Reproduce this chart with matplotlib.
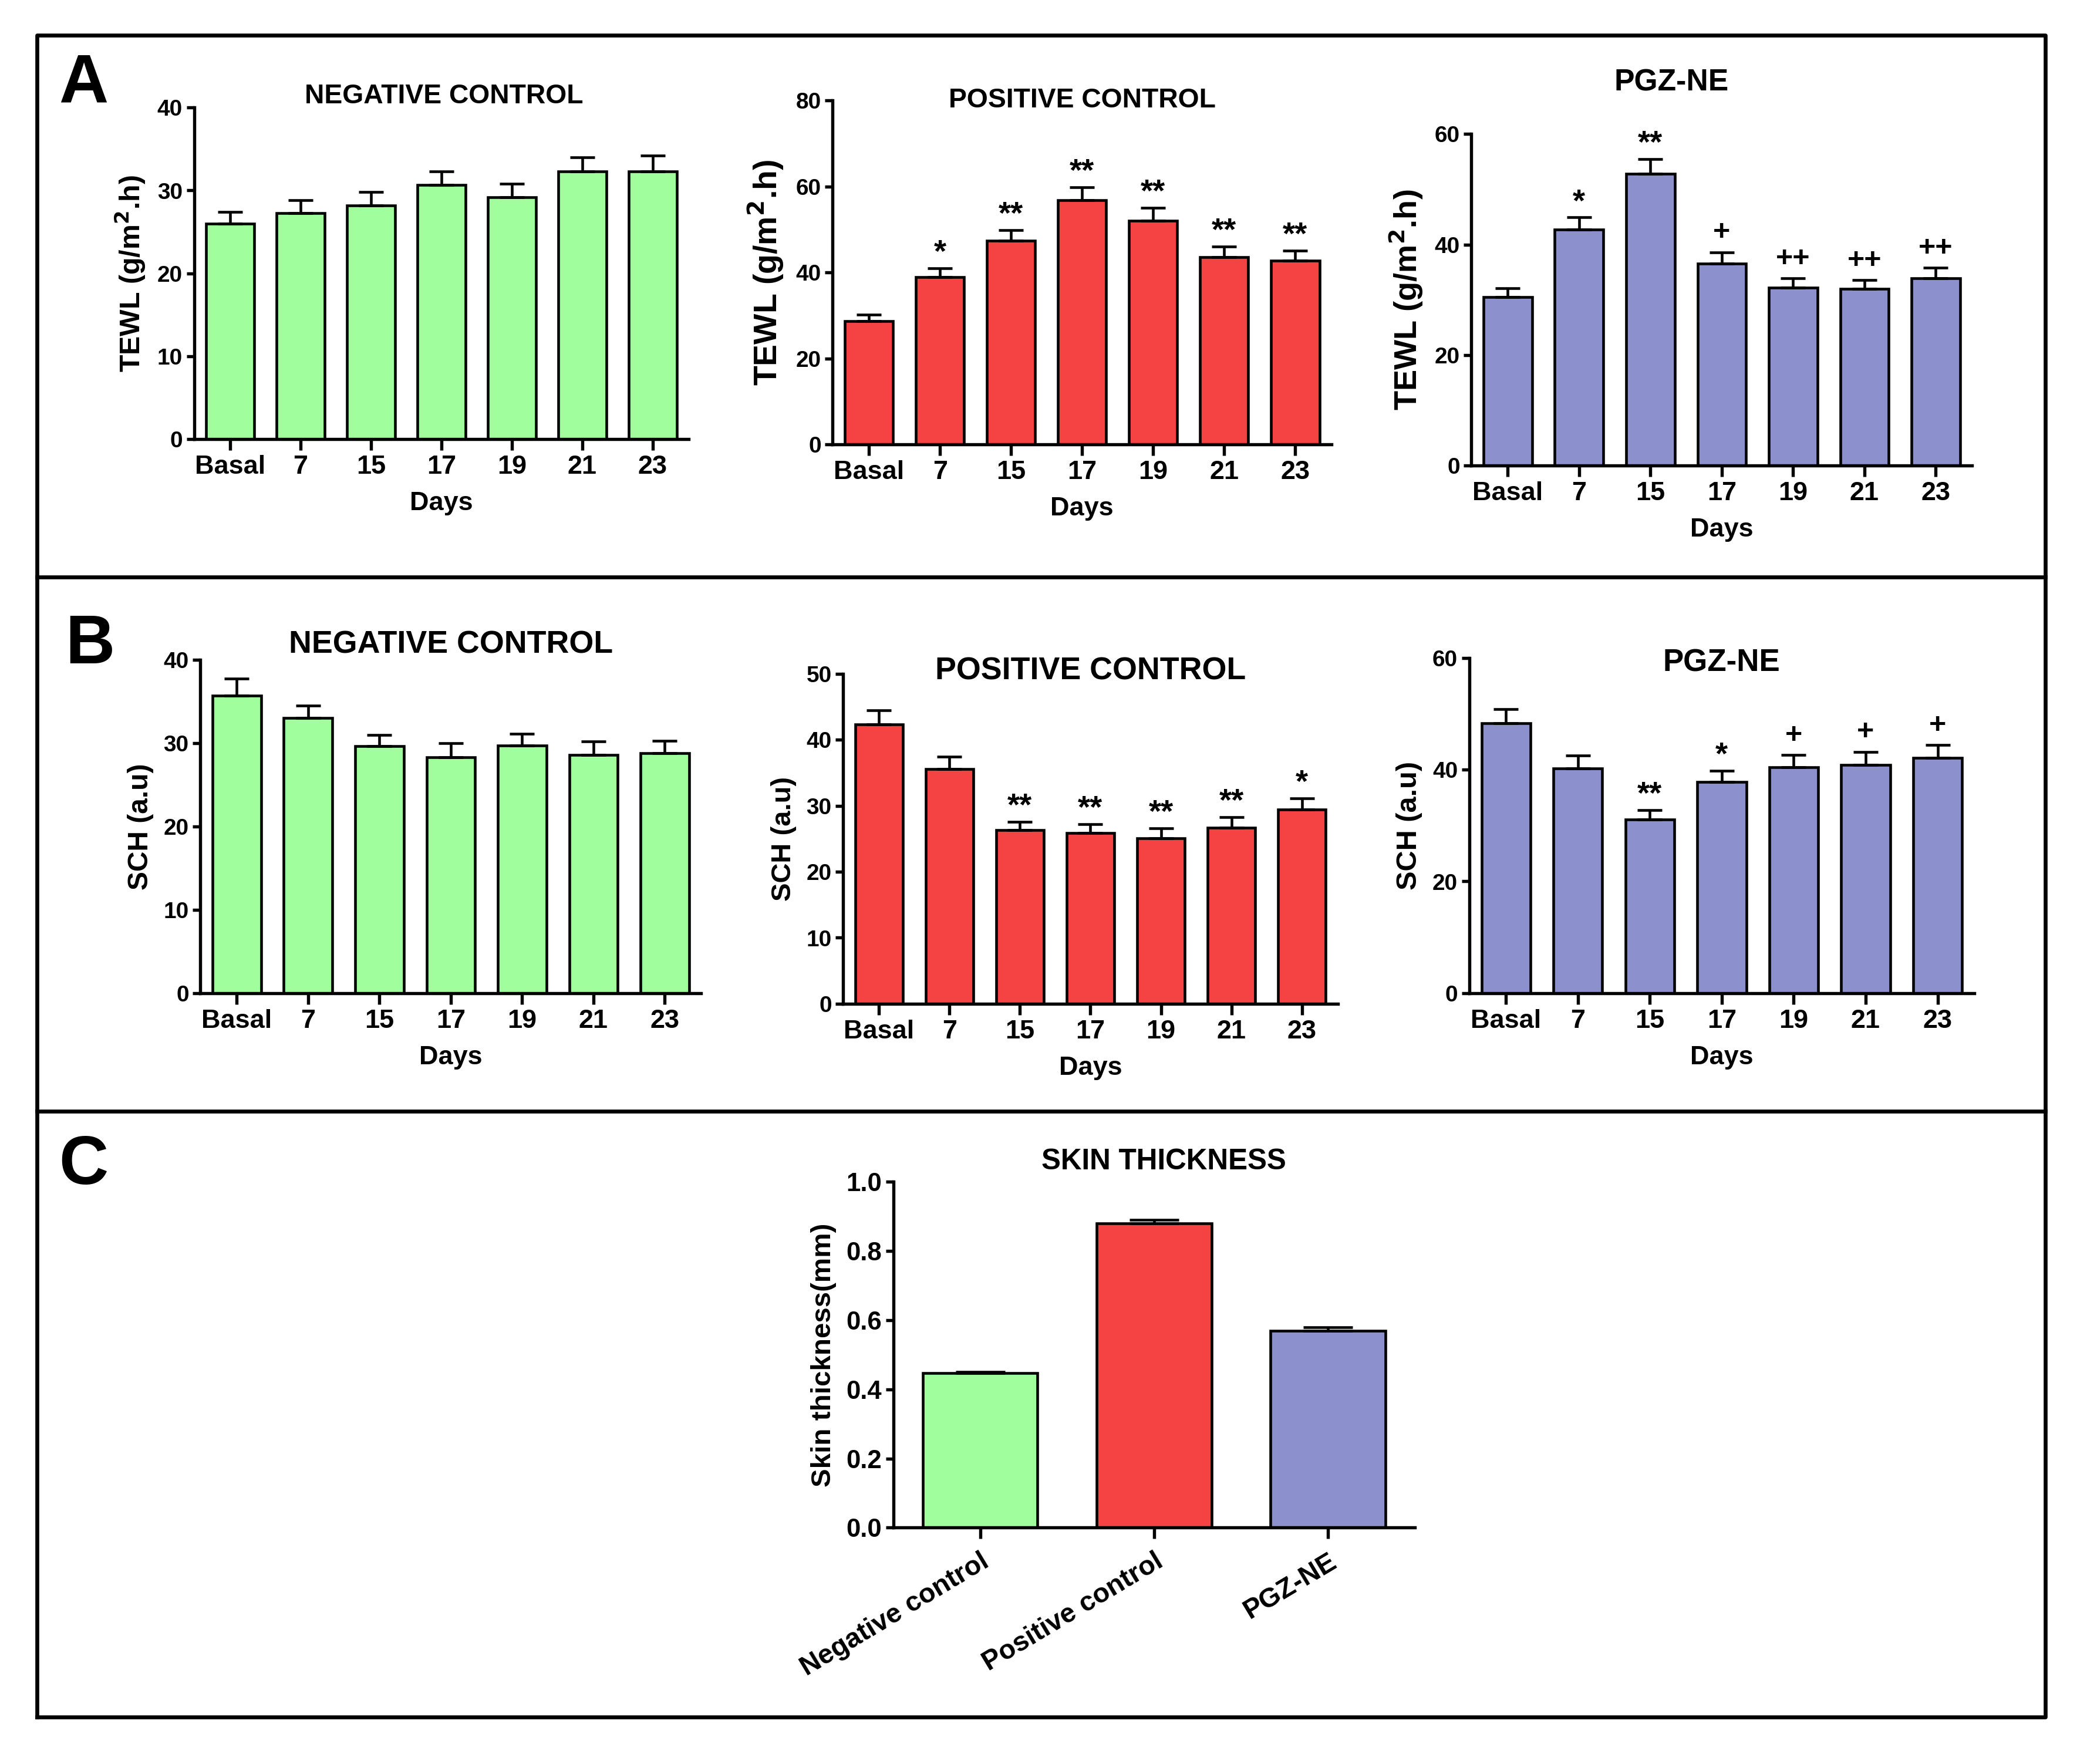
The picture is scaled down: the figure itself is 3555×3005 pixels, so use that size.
import numpy as np
import matplotlib
matplotlib.use('Agg')
import matplotlib.pyplot as plt
from matplotlib.lines import Line2D

plt.rcParams['font.family'] = ['Liberation Sans', 'DejaVu Sans']
plt.rcParams['font.weight'] = 'bold'
plt.rcParams['axes.labelweight'] = 'bold'

# data
days = ['Basal', '7', '15', '17', '19', '21', '23']

tewl_neg = [26.0, 27.3, 28.2, 30.7, 29.2, 32.3, 32.3]
tewl_neg_err = [1.4, 1.5, 1.6, 1.6, 1.6, 1.7, 1.9]
tewl_pos = [28.7, 39.0, 47.4, 56.8, 52.1, 43.6, 42.7]
tewl_pos_err = [1.5, 2.0, 2.5, 3.0, 3.0, 2.5, 2.4]
tewl_pgz = [30.5, 42.7, 52.8, 36.6, 32.2, 32.0, 33.9]
tewl_pgz_err = [1.6, 2.2, 2.7, 2.0, 1.7, 1.6, 1.9]

sch_neg = [35.7, 33.0, 29.6, 28.3, 29.7, 28.6, 28.8]
sch_neg_err = [2.0, 1.5, 1.4, 1.7, 1.4, 1.6, 1.5]
sch_pos = [42.3, 35.6, 26.3, 25.9, 25.1, 26.7, 29.4]
sch_pos_err = [2.2, 1.8, 1.3, 1.3, 1.5, 1.6, 1.7]
sch_pgz = [48.3, 40.2, 31.1, 37.8, 40.4, 40.9, 42.1]
sch_pgz_err = [2.5, 2.3, 1.7, 2.0, 2.2, 2.3, 2.3]

tewl_pos_sig = ['', '*', '**', '**', '**', '**', '**']
tewl_pgz_sig = ['', '*', '**', '+', '++', '++', '++']
sch_pos_sig = ['', '', '**', '**', '**', '**', '*']
sch_pgz_sig = ['', '', '**', '*', '+', '+', '+']

groups = ['Negative control', 'Positive control', 'PGZ-NE']
thick = [0.447, 0.880, 0.570]
thick_err = [0.003, 0.010, 0.010]

green = '#A0FF9C'
red = '#F54242'
blue = '#8C91CE'

fig = plt.figure(figsize=(11.85, 10.017), dpi=300)


def bar_panel(rect, vals, errs, color, ymax, ystep, ylabel, title, tpos, tsize,
              ylsize, sig=None, xlabels=days, fmt='%d'):
    ax = fig.add_axes(rect)
    x = np.arange(len(vals))
    ax.bar(x, vals, width=0.68, color=color, edgecolor='black', linewidth=1.1,
           zorder=2)
    ax.errorbar(x, vals, yerr=[np.zeros(len(errs)), errs], fmt='none',
                ecolor='black', elinewidth=1.1, capsize=5, capthick=1.1, zorder=3)
    ax.set_xlim(-0.51, 6.51)
    ax.set_ylim(0, ymax)
    ax.set_yticks(np.arange(0, ymax + ystep / 2, ystep))
    ax.yaxis.set_major_formatter(matplotlib.ticker.FormatStrFormatter(fmt))
    ax.set_xticks(x)
    ax.set_xticklabels(xlabels, fontsize=10.8)
    ax.set_xlabel('Days', fontsize=10.8, labelpad=5)
    ax.spines['top'].set_visible(False)
    ax.spines['right'].set_visible(False)
    for s in ['left', 'bottom']:
        ax.spines[s].set_linewidth(1.3)
    ax.tick_params(axis='x', length=4.5, width=1.3, pad=2)
    ax.tick_params(axis='y', length=3.2, width=1.3, pad=1.5, labelsize=9.3)
    ax.set_ylabel(ylabel, fontsize=ylsize, labelpad=4)
    ax.text(tpos[0], tpos[1], title, transform=ax.transAxes, ha='center',
            va='center', fontsize=tsize, fontweight='bold')
    if sig:
        for i, s in enumerate(sig):
            if not s:
                continue
            if '*' in s:
                ax.annotate(s, (i, vals[i] + errs[i]), xytext=(0, 0),
                            textcoords='offset points', ha='center', va='bottom',
                            fontsize=13, fontweight='bold')
            else:
                ax.annotate(s, (i, vals[i] + errs[i]), xytext=(0, 2.5),
                            textcoords='offset points', ha='center', va='bottom',
                            fontsize=12, fontweight='bold')
    return ax


tewl_lab = 'TEWL (g/m$^{\\mathbf{2}}$.h)'

bar_panel([0.093, 0.751, 0.237, 0.188], tewl_neg, tewl_neg_err, green, 40, 10,
          tewl_lab, 'NEGATIVE CONTROL', (0.505, 1.035), 11.1, 11.6)
bar_panel([0.399, 0.748, 0.239, 0.195], tewl_pos, tewl_pos_err, red, 80, 20,
          tewl_lab, 'POSITIVE CONTROL', (0.5, 1.0), 11.1, 13.3, sig=tewl_pos_sig)
bar_panel([0.705, 0.736, 0.240, 0.188], tewl_pgz, tewl_pgz_err, blue, 60, 20,
          tewl_lab, 'PGZ-NE', (0.40, 1.155), 12.4, 13.0, sig=tewl_pgz_sig)

bar_panel([0.096, 0.437, 0.240, 0.189], sch_neg, sch_neg_err, green, 40, 10,
          'SCH (a.u)', 'NEGATIVE CONTROL', (0.5, 1.045), 12.9, 11.5)
bar_panel([0.404, 0.431, 0.237, 0.187], sch_pos, sch_pos_err, red, 50, 10,
          'SCH (a.u)', 'POSITIVE CONTROL', (0.5, 1.008), 12.9, 11.3, sig=sch_pos_sig)
bar_panel([0.704, 0.437, 0.242, 0.190], sch_pgz, sch_pgz_err, blue, 60, 20,
          'SCH (a.u)', 'PGZ-NE', (0.5, 0.985), 12.7, 11.7, sig=sch_pgz_sig)

axc = fig.add_axes([0.428, 0.134, 0.250, 0.196])
xc = np.arange(len(thick))
axc.bar(xc, thick, width=0.66, color=[green, red, blue], edgecolor='black',
        linewidth=1.1, zorder=2)
axc.errorbar(xc, thick, yerr=[np.zeros(3), thick_err], fmt='none', ecolor='black',
             elinewidth=1.1, capsize=10, capthick=1.1, zorder=3)
axc.set_xlim(-0.5, 2.5)
axc.set_ylim(0, 1.0)
axc.set_yticks(np.arange(0, 1.01, 0.2))
axc.yaxis.set_major_formatter(matplotlib.ticker.FormatStrFormatter('%.1f'))
axc.set_xticks(xc)
axc.set_xticklabels(groups, rotation=31, ha='right', rotation_mode='anchor',
                    fontsize=11.2)
axc.spines['top'].set_visible(False)
axc.spines['right'].set_visible(False)
for s in ['left', 'bottom']:
    axc.spines[s].set_linewidth(1.3)
axc.tick_params(axis='x', length=4.5, width=1.3, pad=4)
axc.tick_params(axis='y', length=3.2, width=1.3, pad=1.5, labelsize=10.5)
axc.set_ylabel('Skin thickness(mm)', fontsize=11.4, labelpad=4)
axc.text(0.518, 1.058, 'SKIN THICKNESS', transform=axc.transAxes, ha='center',
         va='center', fontsize=11.9, fontweight='bold')

# panel letters
fig.text(0.040, 0.952, 'A', fontsize=28, fontweight='bold', ha='center', va='center')
fig.text(0.043, 0.634, 'B', fontsize=28, fontweight='bold', ha='center', va='center')
fig.text(0.040, 0.339, 'C', fontsize=28, fontweight='bold', ha='center', va='center')

# outer frame and dividers
L, R, B, T = 0.0177, 0.980, 0.0266, 0.980
kw = dict(color='black', linewidth=1.6, transform=fig.transFigure)
fig.add_artist(Line2D([L, R, R, L, L], [B, B, T, T, B], **kw))
fig.add_artist(Line2D([L, R], [0.673, 0.673], **kw))
fig.add_artist(Line2D([L, R], [0.370, 0.370], **kw))

fig.savefig('out.png', dpi=300)
